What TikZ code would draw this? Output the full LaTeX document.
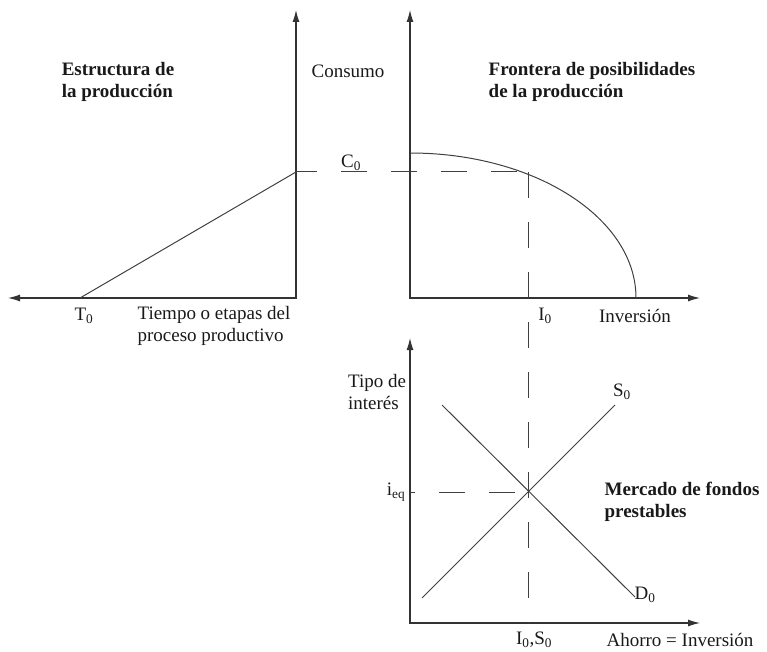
\documentclass[tikz,border=0pt]{standalone}
\usepackage{fontspec}
\setmainfont{Liberation Serif}
\usetikzlibrary{arrows.meta, positioning}

\begin{document}
\begin{tikzpicture}[
        x=1pt, y=-1pt,
        axis/.style={line width=1.1pt, draw=black!80, {Latex[length=12pt,width=7pt]}-{Latex[length=12pt,width=7pt]}},
        curve/.style={line width=1pt, draw=black!75},
        guide/.style={line width=1pt, draw=black!75, dash pattern=on 26pt off 24pt},
        lbl/.style={inner sep=0pt, text=black!90, font=\fontsize{19}{22}\selectfont},
        title/.style={inner sep=0pt, text=black!90, align=left, font=\fontsize{19}{22}\selectfont\bfseries}
    ]
        \useasboundingbox (0,0) rectangle (767,652);

        % Axes
        \coordinate (estO) at (296,298);
        \coordinate (frO) at (410,298);
        \coordinate (fmO) at (410,623);
        \draw [axis] (8,298) -- (estO) -- (296,10);
        \draw [axis] (410,10) -- (frO) -- (700,298);
        \draw [axis] (410,338) -- (fmO) -- (700,623);

        % Key points
        \coordinate (tZero) at (80,298);
        \coordinate (cZero) at (296,172);
        \coordinate (pFr) at (528,172);
        \coordinate (iBase) at (528,623);
        \coordinate (eq) at (528,492);
        \coordinate (ieq) at (410,492);
        \coordinate (sLow) at (422,598);
        \coordinate (sHigh) at (615,405);
        \coordinate (dHigh) at (442,405);
        \coordinate (dLow) at (635,597);

        % Curves
        \draw [curve] (tZero) -- (cZero);
        \draw [curve] (410,153) arc[start angle=-90, end angle=0, x radius=226, y radius=145];
        \draw [curve] (sLow) -- (sHigh);
        \draw [curve] (dHigh) -- (dLow);

        % Dashed guides
        \draw [guide, dash phase=39pt] (pFr) -- (cZero);
        \draw [guide] (pFr) -- (iBase);
        \draw [guide, dash phase=37pt] (eq) -- (ieq);

        % Titles
        \node (estTitle) [title] at (118,82) {Estructura de\\la producción};
        \node (frTitle) [title] at (592,82) {Frontera de posibilidades\\de la producción};
        \node (fmTitle) [title] at (682,502) {Mercado de fondos\\prestables};

        % Labels
        \node (consumo) [lbl] at (348,71) {Consumo};
        \node (cLbl) [lbl] at (351,163) {C\textsubscript{0}};
        \node (tLbl) [lbl] at (84,316) {T\textsubscript{0}};
        \node (tiempo) [lbl, align=left] at (214,326) {Tiempo o etapas del\\proceso productivo};
        \node (iLbl) [lbl] at (545,316) {I\textsubscript{0}};
        \node (inversion) [lbl] at (635,316) {Inversión};
        \node (tipo) [lbl, align=left] at (377,392) {Tipo de\\interés};
        \node (ieqLbl) [lbl] at (396,492) {i\textsubscript{eq}};
        \node (sLbl) [lbl] at (622,392) {S\textsubscript{0}};
        \node (dLbl) [lbl] at (645,595) {D\textsubscript{0}};
        \node (isLbl) [lbl] at (534,640) {I\textsubscript{0},S\textsubscript{0}};
        \node (ahorro) [lbl] at (680,640) {Ahorro = Inversión};

    \end{tikzpicture}
\end{document}
